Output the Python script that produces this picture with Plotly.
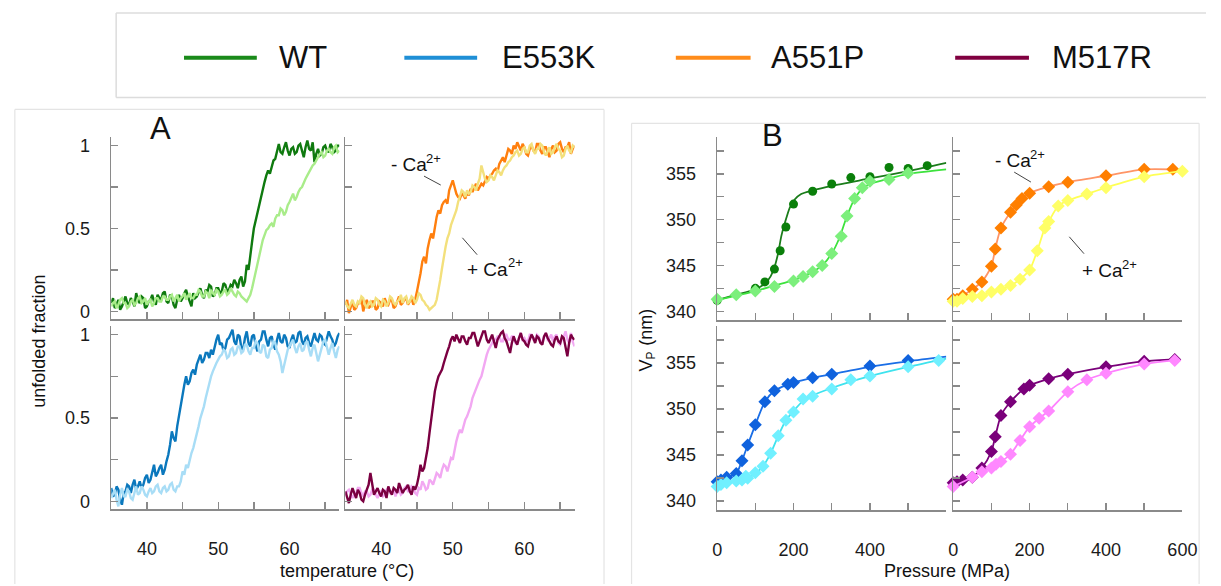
import plotly.graph_objects as go

W, H = 1221, 586


def fx(px):
    return px / W


def fy(py):
    return 1 - py / H


# ---------------- Panel A : thermal unfolding (fraction unfolded vs temperature) ----------------
temps = [35.0, 35.25, 35.5, 35.75, 36.0, 36.25, 36.5, 36.75, 37.0, 37.25, 37.5, 37.75, 38.0, 38.25, 38.5, 38.75,
         39.0, 39.25, 39.5, 39.75, 40.0, 40.25, 40.5, 40.75, 41.0, 41.25, 41.5, 41.75, 42.0, 42.25, 42.5, 42.75,
         43.0, 43.25, 43.5, 43.75, 44.0, 44.25, 44.5, 44.75, 45.0, 45.25, 45.5, 45.75, 46.0, 46.25, 46.5, 46.75,
         47.0, 47.25, 47.5, 47.75, 48.0, 48.25, 48.5, 48.75, 49.0, 49.25, 49.5, 49.75, 50.0, 50.25, 50.5, 50.75,
         51.0, 51.25, 51.5, 51.75, 52.0, 52.25, 52.5, 52.75, 53.0, 53.25, 53.5, 53.75, 54.0, 54.25, 54.5, 54.75,
         55.0, 55.25, 55.5, 55.75, 56.0, 56.25, 56.5, 56.75, 57.0, 57.25, 57.5, 57.75, 58.0, 58.25, 58.5, 58.75,
         59.0, 59.25, 59.5, 59.75, 60.0, 60.25, 60.5, 60.75, 61.0, 61.25, 61.5, 61.75, 62.0, 62.25, 62.5, 62.75,
         63.0, 63.25, 63.5, 63.75, 64.0, 64.25, 64.5, 64.75, 65.0, 65.25, 65.5, 65.75, 66.0, 66.25, 66.5, 66.75,
         67.0]

wt_minus_ca = [0.05, 0.08, 0.02, 0.04, 0.07, 0.01, 0.03, 0.06, 0.09, 0.05, 0.04, 0.08, 0.06, 0.03, 0.11, 0.07,
               0.05, 0.09, 0.08, 0.02, 0.03, 0.06, 0.07, 0.10, 0.06, 0.04, 0.10, 0.08, 0.07, 0.11, 0.12, 0.06,
               0.05, 0.10, 0.09, 0.04, 0.02, 0.07, 0.10, 0.06, 0.08, 0.11, 0.13, 0.09, 0.06, 0.03, 0.11, 0.08,
               0.09, 0.12, 0.14, 0.10, 0.08, 0.13, 0.12, 0.16, 0.15, 0.09, 0.10, 0.14, 0.14, 0.11, 0.12, 0.17,
               0.16, 0.12, 0.13, 0.16, 0.15, 0.19, 0.17, 0.14, 0.19, 0.21, 0.15, 0.18, 0.28, 0.25, 0.35, 0.42,
               0.50, 0.55, 0.60, 0.64, 0.68, 0.73, 0.78, 0.82, 0.85, 0.83, 0.88, 0.91, 0.92, 0.97, 1.01, 0.96,
               0.95, 0.99, 1.02, 0.97, 0.94, 0.98, 0.99, 0.95, 0.96, 1.00, 1.01, 0.97, 0.93, 0.99, 1.03, 0.98,
               0.97, 1.02, 0.90, 0.95, 0.98, 0.94, 0.95, 0.99, 1.00, 0.97, 0.96, 1.01, 0.99, 0.96, 0.97, 1.00,
               1.00]
wt_plus_ca = [0.03, 0.05, 0.06, 0.02, 0.04, 0.07, 0.08, 0.05, 0.05, 0.02, 0.03, 0.06, 0.07, 0.04, 0.05, 0.08,
              0.09, 0.05, 0.06, 0.08, 0.04, 0.06, 0.07, 0.03, 0.05, 0.08, 0.08, 0.06, 0.06, 0.09, 0.09, 0.07,
              0.07, 0.09, 0.10, 0.06, 0.08, 0.10, 0.06, 0.08, 0.09, 0.11, 0.07, 0.09, 0.11, 0.08, 0.08, 0.10,
              0.10, 0.13, 0.12, 0.09, 0.09, 0.12, 0.11, 0.08, 0.13, 0.11, 0.10, 0.13, 0.12, 0.09, 0.10, 0.12,
              0.13, 0.10, 0.11, 0.14, 0.12, 0.10, 0.09, 0.12, 0.11, 0.09, 0.08, 0.07, 0.06, 0.08, 0.10, 0.14,
              0.19, 0.24, 0.28, 0.34, 0.40, 0.43, 0.46, 0.49, 0.50, 0.52, 0.53, 0.51, 0.56, 0.58, 0.58, 0.62,
              0.61, 0.58, 0.60, 0.64, 0.66, 0.69, 0.71, 0.67, 0.69, 0.72, 0.74, 0.75, 0.78, 0.80, 0.82, 0.84,
              0.86, 0.88, 0.89, 0.91, 0.93, 0.95, 0.96, 0.93, 0.94, 0.97, 0.98, 0.96, 0.95, 0.99, 1.00, 0.96,
              0.97]

a551p_minus_ca = [0.04, 0.07, -0.01, 0.03, 0.06, 0.01, 0.02, 0.05, 0.05, 0.08, 0.00, 0.04, 0.07, 0.02, 0.03, 0.06,
                  0.06, 0.01, 0.02, 0.06, 0.05, 0.03, 0.08, 0.05, 0.04, 0.07, 0.07, 0.02, 0.03, 0.06, 0.09, 0.04,
                  0.05, 0.07, 0.08, 0.04, 0.06, 0.08, 0.04, 0.07, 0.12, 0.17, 0.23, 0.30, 0.33, 0.29, 0.38, 0.43,
                  0.47, 0.44, 0.52, 0.57, 0.61, 0.59, 0.64, 0.66, 0.67, 0.65, 0.73, 0.76, 0.79, 0.75, 0.71, 0.69,
                  0.68, 0.71, 0.70, 0.68, 0.72, 0.70, 0.74, 0.72, 0.75, 0.77, 0.73, 0.75, 0.77, 0.76, 0.79, 0.81,
                  0.80, 0.82, 0.83, 0.85, 0.86, 0.84, 0.89, 0.91, 0.93, 0.90, 0.95, 0.98, 0.97, 0.95, 1.00, 0.98,
                  1.02, 0.99, 0.97, 1.01, 0.99, 0.95, 0.94, 0.98, 1.00, 0.97, 0.96, 1.01, 1.01, 0.97, 0.95, 0.99,
                  0.99, 0.96, 0.93, 0.98, 1.00, 0.96, 0.97, 1.01, 1.02, 0.98, 0.96, 0.99, 0.99, 1.02, 0.95, 0.98,
                  1.00]
a551p_plus_ca = [0.06, 0.03, 0.02, 0.05, 0.07, 0.04, 0.03, 0.06, 0.05, 0.09, 0.08, 0.04, 0.02, 0.05, 0.06, 0.03,
                 0.04, 0.08, 0.07, 0.04, 0.03, 0.07, 0.06, 0.03, 0.05, 0.09, 0.08, 0.05, 0.04, 0.06, 0.07, 0.10,
                 0.05, 0.08, 0.09, 0.05, 0.06, 0.09, 0.08, 0.05, 0.07, 0.11, 0.10, 0.07, 0.06, 0.04, 0.03, 0.01,
                 0.02, 0.03, 0.04, 0.07, 0.12, 0.19, 0.26, 0.33, 0.39, 0.44, 0.47, 0.52, 0.55, 0.58, 0.61, 0.66,
                 0.70, 0.73, 0.72, 0.69, 0.73, 0.71, 0.72, 0.76, 0.75, 0.73, 0.77, 0.80, 0.88, 0.83, 0.80, 0.78,
                 0.79, 0.82, 0.81, 0.79, 0.82, 0.85, 0.84, 0.82, 0.85, 0.87, 0.88, 0.90, 0.91, 0.93, 0.94, 0.96,
                 0.97, 0.94, 0.95, 0.98, 0.99, 0.96, 0.96, 1.00, 1.01, 0.97, 0.95, 0.98, 0.98, 1.01, 1.00, 0.96,
                 0.94, 0.97, 0.99, 0.95, 0.96, 0.99, 1.01, 0.98, 0.97, 0.93, 0.94, 0.98, 1.00, 0.97, 0.96, 1.00,
                 0.99]

e553k_minus_ca = [0.08, 0.03, 0.04, 0.09, 0.07, 0.01, -0.02, 0.05, 0.06, 0.10, 0.09, 0.05, 0.10, 0.13, 0.07, 0.09,
                  0.12, 0.08, 0.10, 0.14, 0.16, 0.11, 0.13, 0.17, 0.22, 0.15, 0.17, 0.20, 0.22, 0.16, 0.19, 0.24,
                  0.28, 0.34, 0.42, 0.38, 0.36, 0.45, 0.52, 0.58, 0.63, 0.70, 0.75, 0.70, 0.72, 0.77, 0.79, 0.76,
                  0.82, 0.85, 0.88, 0.83, 0.85, 0.89, 0.89, 0.86, 0.91, 0.88, 0.93, 0.97, 1.00, 0.94, 0.95, 0.90,
                  0.92, 0.97, 0.98, 1.01, 1.03, 0.96, 0.94, 1.00, 0.99, 0.92, 0.91, 0.98, 1.02, 0.95, 0.93, 0.99,
                  1.00, 0.94, 0.90, 0.96, 0.97, 1.02, 1.02, 0.97, 0.93, 0.98, 0.99, 0.94, 0.91, 0.97, 1.01, 0.96,
                  0.95, 1.00, 0.98, 0.93, 0.92, 0.97, 1.00, 0.95, 0.96, 1.01, 1.02, 0.96, 0.94, 0.98, 0.99, 0.95,
                  0.93, 0.97, 1.01, 0.97, 0.96, 1.00, 0.99, 0.95, 0.94, 0.98, 1.02, 0.99, 0.97, 0.93, 0.95, 0.99,
                  1.01]
e553k_plus_ca = [0.02, 0.05, 0.07, 0.01, -0.03, 0.04, 0.08, 0.03, 0.03, 0.07, 0.06, 0.02, 0.01, 0.05, 0.09, 0.04,
                 0.05, 0.09, 0.07, 0.04, 0.03, 0.06, 0.08, 0.05, 0.06, 0.09, 0.10, 0.06, 0.05, 0.08, 0.09, 0.06,
                 0.07, 0.10, 0.11, 0.07, 0.06, 0.09, 0.09, 0.12, 0.18, 0.16, 0.22, 0.20, 0.25, 0.29, 0.32, 0.36,
                 0.40, 0.45, 0.50, 0.53, 0.57, 0.62, 0.67, 0.71, 0.75, 0.78, 0.81, 0.83, 0.85, 0.87, 0.88, 0.91,
                 0.90, 0.86, 0.87, 0.91, 0.92, 0.88, 0.89, 0.93, 0.93, 0.89, 0.90, 0.94, 0.94, 0.90, 0.88, 0.92,
                 0.92, 0.96, 0.95, 0.90, 0.89, 0.94, 0.93, 0.87, 0.86, 0.91, 0.92, 0.96, 0.95, 0.90, 0.88, 0.84,
                 0.77, 0.82, 0.86, 0.91, 0.93, 0.95, 0.97, 0.92, 0.89, 0.93, 0.95, 0.90, 0.91, 0.95, 0.96, 0.91,
                 0.87, 0.92, 0.94, 0.89, 0.84, 0.88, 0.92, 0.96, 0.97, 0.93, 0.88, 0.92, 0.95, 0.90, 0.86, 0.91,
                 0.93]

m517r_minus_ca = [0.06, 0.02, -0.01, 0.04, 0.08, 0.05, 0.02, 0.07, 0.05, 0.01, 0.00, 0.04, 0.07, 0.10, 0.17, 0.09,
                  0.04, 0.06, 0.08, 0.05, 0.03, 0.07, 0.06, 0.02, 0.09, 0.06, 0.04, 0.08, 0.07, 0.05, 0.11, 0.08,
                  0.05, 0.07, 0.08, 0.10, 0.06, 0.04, 0.09, 0.07, 0.10, 0.15, 0.22, 0.18, 0.20, 0.26, 0.32, 0.41,
                  0.50, 0.58, 0.66, 0.71, 0.75, 0.77, 0.79, 0.83, 0.87, 0.90, 0.93, 0.97, 0.99, 0.96, 1.00, 0.97,
                  0.95, 0.99, 0.99, 0.96, 0.94, 0.98, 0.98, 1.01, 1.01, 0.97, 0.93, 0.96, 0.99, 1.02, 1.02, 0.97,
                  0.95, 0.98, 1.00, 0.96, 0.92, 0.97, 0.99, 1.01, 1.02, 0.98, 0.96, 0.92, 0.89, 0.95, 0.99, 0.96,
                  0.94, 0.98, 1.01, 0.97, 0.96, 0.94, 0.93, 0.97, 1.00, 0.98, 0.95, 0.99, 0.98, 0.95, 0.94, 0.99,
                  1.01, 0.98, 0.96, 0.94, 0.93, 0.97, 0.99, 0.96, 0.95, 0.99, 0.98, 0.92, 0.87, 0.95, 1.00, 0.98,
                  0.97]
m517r_plus_ca = [0.03, 0.06, 0.07, 0.04, 0.02, 0.04, 0.05, 0.08, 0.08, 0.05, 0.03, 0.06, 0.06, 0.03, 0.04, 0.07,
                 0.07, 0.04, 0.02, 0.05, 0.06, 0.03, 0.04, 0.07, 0.08, 0.05, 0.05, 0.08, 0.03, 0.06, 0.07, 0.04,
                 0.05, 0.08, 0.09, 0.06, 0.06, 0.09, 0.08, 0.05, 0.04, 0.08, 0.07, 0.12, 0.10, 0.07, 0.08, 0.13,
                 0.12, 0.10, 0.14, 0.17, 0.16, 0.14, 0.19, 0.22, 0.21, 0.18, 0.22, 0.26, 0.25, 0.31, 0.36, 0.40,
                 0.43, 0.41, 0.46, 0.49, 0.51, 0.54, 0.57, 0.62, 0.65, 0.68, 0.70, 0.73, 0.75, 0.80, 0.84, 0.88,
                 0.91, 0.93, 0.95, 0.97, 0.97, 0.99, 0.99, 0.96, 0.96, 1.00, 1.00, 0.97, 0.97, 0.99, 0.99, 0.95,
                 0.95, 0.98, 1.01, 0.97, 0.98, 0.96, 0.96, 1.00, 1.00, 0.97, 0.97, 1.00, 0.99, 0.96, 0.95, 0.99,
                 1.01, 0.97, 0.98, 1.00, 0.96, 0.99, 1.00, 0.95, 0.94, 0.98, 0.99, 1.02, 0.97, 0.95, 1.01, 0.96,
                 0.93]

# ---------------- Panel B : pressure unfolding (Vp vs pressure) ----------------
wt_minus_p = [0, 100, 125, 150, 165, 180, 200, 250, 300, 350, 400, 450, 500, 550]
wt_minus_vp = [341.2, 342.5, 343.2, 344.6, 346.6, 349.2, 351.7, 353.1, 353.9, 354.6,
               354.7, 355.7, 355.6, 355.9]
wt_minus_fit_p = [0, 50, 100, 125, 140, 150, 160, 168, 177, 190, 203, 220, 250, 300, 400, 500, 600]
wt_minus_fit_vp = [341.2, 341.8, 342.4, 343.0, 343.8, 344.8, 346.4, 348.2, 349.6, 351.3,
                   352.2, 352.8, 353.2, 353.7, 354.5, 355.3, 356.2]
wt_plus_p = [0, 50, 100, 150, 200, 225, 250, 275, 300, 325, 340, 360, 380, 400, 450, 500]
wt_plus_vp = [341.3, 341.8, 342.2, 342.7, 343.3, 343.8, 344.3, 345.0, 346.3, 348.2,
              350.4, 352.3, 353.5, 354.2, 354.4, 355.1]
wt_plus_fit_p = [0, 50, 100, 150, 200, 250, 275, 300, 320, 340, 360, 380, 400, 450, 500, 600]
wt_plus_fit_vp = [341.2, 341.7, 342.2, 342.8, 343.4, 344.3, 345.0, 346.3, 348.0, 350.4,
                  352.3, 353.4, 353.9, 354.5, 355.0, 355.5]

a551p_minus_p = [0, 10, 25, 50, 75, 100, 110, 125, 150, 165, 180, 200, 250, 300, 400, 500, 575]
a551p_minus_vp = [341.3, 341.3, 341.7, 342.4, 343.2, 344.9, 346.8, 349.1, 350.8, 351.6,
                  352.3, 352.9, 353.6, 354.1, 354.8, 355.5, 355.5]
a551p_plus_p = [0, 10, 25, 50, 75, 100, 125, 150, 175, 200, 220, 240, 250, 275, 300,
                350, 400, 500, 600]
a551p_plus_vp = [341.1, 341.1, 341.4, 341.6, 341.7, 342.1, 342.4, 342.8, 343.5, 344.5,
                 346.6, 349.1, 349.8, 351.5, 352.1, 352.8, 353.5, 354.7, 355.3]

e553k_minus_p = [0, 10, 25, 50, 65, 80, 100, 125, 150, 185, 200, 250, 300, 400, 500]
e553k_minus_vp = [342.1, 342.3, 342.6, 343.0, 344.4, 346.1, 348.3, 350.8, 352.0, 352.7,
                  352.9, 353.4, 353.8, 354.7, 355.3]
e553k_minus_fit_p = [0, 10, 25, 50, 65, 80, 100, 125, 150, 185, 200, 250, 300, 400, 500, 600]
e553k_minus_fit_vp = [342.1, 342.3, 342.6, 343.0, 344.4, 346.1, 348.3, 350.8, 352.0, 352.7,
                      352.9, 353.4, 353.8, 354.6, 355.2, 355.7]
e553k_plus_p = [0, 10, 25, 50, 65, 75, 80, 100, 120, 140, 160, 180, 200, 225, 250,
                300, 350, 400, 500, 580]
e553k_plus_vp = [341.6, 341.8, 342.0, 342.2, 342.3, 342.7, 342.5, 343.1, 343.8, 345.2,
                 347.1, 348.8, 349.7, 351.1, 351.4, 352.2, 353.2, 353.6, 354.6, 355.3]
e553k_plus_fit_p = [0, 25, 50, 80, 100, 120, 140, 160, 180, 200, 225, 250, 300, 350, 400, 500, 600]
e553k_plus_fit_vp = [341.6, 341.9, 342.2, 342.5, 343.0, 343.8, 345.2, 347.1, 348.8, 349.8,
                     350.9, 351.5, 352.3, 353.0, 353.6, 354.6, 355.5]

m517r_minus_p = [0, 10, 25, 50, 75, 100, 110, 125, 150, 185, 200, 250, 300, 400, 500, 580]
m517r_minus_vp = [342.0, 342.1, 342.3, 342.6, 343.6, 345.4, 347.0, 349.3, 350.8, 352.2,
                  352.6, 353.3, 353.8, 354.6, 355.2, 355.4]
m517r_plus_p = [0, 50, 75, 100, 112, 125, 150, 175, 200, 225, 250, 300, 350, 400, 500, 580]
m517r_plus_vp = [341.6, 342.6, 343.2, 343.6, 344.0, 344.3, 345.1, 346.6, 348.1, 349.0,
                 349.8, 351.9, 353.2, 353.9, 354.9, 355.3]

legend_names = ["WT", "E553K", "A551P", "M517R"]
legend_colors = ["#1a8a1a", "#1f8fd6", "#ff8c1a", "#800040"]

FONT = "Arial, 'Liberation Sans', sans-serif"
AXIS_GRAY = "#8a8a8a"

fig = go.Figure()

# ---- Panel A traces ----
a_series = [
    (1, wt_plus_ca, wt_minus_ca, "#a9ec8a", "#0f7a0f", False),
    (2, a551p_plus_ca, a551p_minus_ca, "#f3e07c", "#ff7f0e", False),
    (3, e553k_plus_ca, e553k_minus_ca, "#a8ddf6", "#0b78bd", False),
    (4, m517r_plus_ca, m517r_minus_ca, "#f2a8f2", "#7b0041", True),
]
for ax, light, dark, lc, dc, dark_top in a_series:
    xa = "x" if ax == 1 else f"x{ax}"
    ya = "y" if ax == 1 else f"y{ax}"
    order = [(dark, dc), (light, lc)] if not dark_top else [(light, lc), (dark, dc)]
    for vals, col in order:
        fig.add_trace(go.Scatter(x=temps, y=vals, mode="lines", xaxis=xa, yaxis=ya,
                                 line=dict(color=col, width=2.4), showlegend=False,
                                 hoverinfo="skip"))

# ---- Panel B traces ----
b_series = [
    (5, [(wt_minus_fit_p, wt_minus_fit_vp, wt_minus_p, wt_minus_vp, "#1b7d1b", "#0a7f0a", "circle"),
         (wt_plus_fit_p, wt_plus_fit_vp, wt_plus_p, wt_plus_vp, "#3de23d", "#7cef7c", "diamond")]),
    (6, [(a551p_minus_p, a551p_minus_vp, a551p_minus_p, a551p_minus_vp, "#ff9566", "#ff7f00", "diamond"),
         (a551p_plus_p, a551p_plus_vp, a551p_plus_p, a551p_plus_vp, "#ffff55", "#ffff66", "diamond")]),
    (7, [(e553k_minus_fit_p, e553k_minus_fit_vp, e553k_minus_p, e553k_minus_vp, "#1a6ee6", "#0f62dd", "diamond"),
         (e553k_plus_fit_p, e553k_plus_fit_vp, e553k_plus_p, e553k_plus_vp, "#3fe3ee", "#70f0ff", "diamond")]),
    (8, [(m517r_minus_p, m517r_minus_vp, m517r_minus_p, m517r_minus_vp, "#7a007a", "#7a007a", "diamond"),
         (m517r_plus_p, m517r_plus_vp, m517r_plus_p, m517r_plus_vp, "#ff80ff", "#ff88ff", "diamond")]),
]
for ax, lst in b_series:
    xa, ya = f"x{ax}", f"y{ax}"
    for fp, fv, mp, mv, lcol, mcol, sym in lst:
        fig.add_trace(go.Scatter(x=fp, y=fv, mode="lines", xaxis=xa, yaxis=ya,
                                 line=dict(color=lcol, width=1.8, shape="spline", smoothing=0.7),
                                 showlegend=False, hoverinfo="skip"))
        fig.add_trace(go.Scatter(x=mp, y=mv, mode="markers", xaxis=xa, yaxis=ya,
                                 marker=dict(color=mcol, size=9 if sym == "circle" else 10,
                                             symbol=sym, line=dict(width=0)),
                                 cliponaxis=False, showlegend=False, hoverinfo="skip"))

# ---- axes ----
tick_font = dict(family=FONT, size=18, color="#1a1a1a")
common = dict(showline=True, linecolor=AXIS_GRAY, linewidth=1.6, ticks="inside", ticklen=7,
              tickwidth=1.4, tickcolor=AXIS_GRAY, showgrid=False, zeroline=False,
              tickfont=tick_font, fixedrange=True)
minor_style = dict(ticks="inside", ticklen=7, tickwidth=1.4, tickcolor=AXIS_GRAY, showgrid=False)

boxes = {
    1: ((108, 340), (137, 320)), 2: ((346, 579), (137, 320)),
    3: ((108, 340), (327, 511)), 4: ((346, 579), (327, 511)),
    5: ((724, 957), (137, 321)), 6: ((964, 1197), (137, 321)),
    7: ((724, 957), (327, 512)), 8: ((964, 1197), (327, 512)),
}
layout_axes = {}
for ax, ((x0, x1), (y0, y1)) in boxes.items():
    xname = "xaxis" if ax == 1 else f"xaxis{ax}"
    yname = "yaxis" if ax == 1 else f"yaxis{ax}"
    anchor_y = "y" if ax == 1 else f"y{ax}"
    anchor_x = "x" if ax == 1 else f"x{ax}"
    is_bottom = ax in (3, 4, 7, 8)
    is_left = ax in (1, 3, 5, 7)
    if ax <= 4:
        xa = dict(range=[35, 67], tickvals=[40, 50, 60],
                  minor=dict(minor_style, tickvals=[35, 45, 55, 65]))
        ya = dict(range=[-0.048, 1.05], tickvals=[0, 0.5, 1], ticktext=["0", "0.5", "1"],
                  minor=dict(minor_style, tickvals=[0.25, 0.75]))
    else:
        if ax == 8:
            xa = dict(range=[0, 600], tickvals=[0, 200, 400, 600],
                      minor=dict(minor_style, tickvals=[100, 300, 500]))
        else:
            xa = dict(range=[0, 600], tickvals=[0, 200, 400],
                      minor=dict(minor_style, tickvals=[100, 300, 500, 600]))
        ya = dict(range=[339, 359], tickvals=[340, 345, 350, 355],
                  minor=dict(minor_style, tickvals=[342.5, 347.5, 352.5, 357.5]))
    layout_axes[xname] = dict(common, **xa, domain=[fx(x0), fx(x1)], anchor=anchor_y,
                              showticklabels=is_bottom, ticklabelstandoff=22)
    layout_axes[yname] = dict(common, **ya, domain=[fy(y1), fy(y0)], anchor=anchor_x,
                              showticklabels=is_left, ticklabelstandoff=16)

fig.update_layout(**layout_axes)


# ---- frames (kept inside the page), leader lines and legend ----
def pline(x0, y0, x1, y1, color, width):
    return dict(type="line", xref="paper", yref="paper", x0=x0, y0=y0, x1=x1, y1=y1,
                line=dict(color=color, width=width), layer="below")


FRAME = "#e4e4e4"
shapes = [
    pline(fx(113), fy(12), 1.0, fy(12), "#dcdcdc", 1.5),
    pline(fx(113), fy(97), 1.0, fy(97), "#dcdcdc", 1.5),
    pline(fx(113), fy(12), fx(113), fy(97), "#dcdcdc", 1.5),
    pline(fx(10), fy(109), fx(609), fy(109), FRAME, 1.2),
    pline(fx(10), fy(109), fx(10), 0.0, FRAME, 1.2),
    pline(fx(609), fy(109), fx(609), 0.0, FRAME, 1.2),
    pline(fx(637), fy(123), fx(1214), fy(123), FRAME, 1.2),
    pline(fx(637), fy(123), fx(637), 0.0, FRAME, 1.2),
    pline(fx(1214), fy(123), fx(1214), 0.0, FRAME, 1.2),
    pline(fx(426), fy(176), fx(443), fy(185), "#444444", 1),
    pline(fx(465), fy(238), fx(480), fy(255), "#444444", 1),
    pline(fx(1026), fy(172), fx(1043), fy(182), "#444444", 1),
    pline(fx(1082), fy(237), fx(1097), fy(254), "#444444", 1),
]
leg_line_x = [(182, 256), (406, 480), (682, 758), (966, 1041)]
leg_text_x = [277, 503, 777, 1062]
annotations = []
for (lx0, lx1), tx, name, col in zip(leg_line_x, leg_text_x, legend_names, legend_colors):
    shapes.append(dict(type="line", xref="paper", yref="paper", x0=fx(lx0), x1=fx(lx1),
                       y0=fy(57), y1=fy(57), line=dict(color=col, width=4)))
    annotations.append(dict(text=name, x=fx(tx), y=fy(57), xref="paper", yref="paper",
                            xanchor="left", yanchor="middle", showarrow=False,
                            font=dict(family=FONT, size=31, color="#111111")))


def txt(s, x, y, size, angle=0, anchor="center"):
    return dict(text=s, x=fx(x), y=fy(y), xref="paper", yref="paper", xanchor=anchor,
                yanchor="middle", showarrow=False, textangle=angle,
                font=dict(family=FONT, size=size, color="#111111"))


annotations += [
    txt("A", 158, 128, 31),
    txt("B", 780, 135, 31),
    txt("unfolded fraction", 35, 342, 18, -90),
    txt("V", 652, 366, 18, -90),
    txt("P", 657, 356, 12, -90),
    txt("(nm)", 652, 328, 18, -90),
    txt("temperature (°C)", 348, 573, 18),
    txt("Pressure (MPa)", 958, 573, 18),
    txt("- Ca", 390, 164, 19, anchor="left"),
    txt("2+", 426, 158, 13, anchor="left"),
    txt("+ Ca", 468, 270, 19, anchor="left"),
    txt("2+", 509, 263, 13, anchor="left"),
    txt("- Ca", 1004, 160, 19, anchor="left"),
    txt("2+", 1040, 154, 13, anchor="left"),
    txt("+ Ca", 1093, 271, 19, anchor="left"),
    txt("2+", 1134, 265, 13, anchor="left"),
]

fig.update_layout(width=W, height=H, margin=dict(l=0, r=0, t=0, b=0), autosize=False,
                  paper_bgcolor="white", plot_bgcolor="rgba(0,0,0,0)",
                  shapes=shapes, annotations=annotations, showlegend=False,
                  font=dict(family=FONT))

page_css = ("document.documentElement.style.overflow='hidden';"
            "document.body.style.margin='0px';document.body.style.overflow='hidden';"
            "var gd=document.getElementById('{plot_id}');"
            "gd.style.overflow='hidden';"
            "var wrap=gd.parentNode;"
            "wrap.style.position='fixed';wrap.style.left='0px';wrap.style.top='0px';"
            "wrap.style.overflow='hidden';wrap.style.width='1221px';wrap.style.height='586px';")

fig.write_html("out.html",
               config={"displayModeBar": False, "responsive": False, "staticPlot": True},
               post_script=page_css)
